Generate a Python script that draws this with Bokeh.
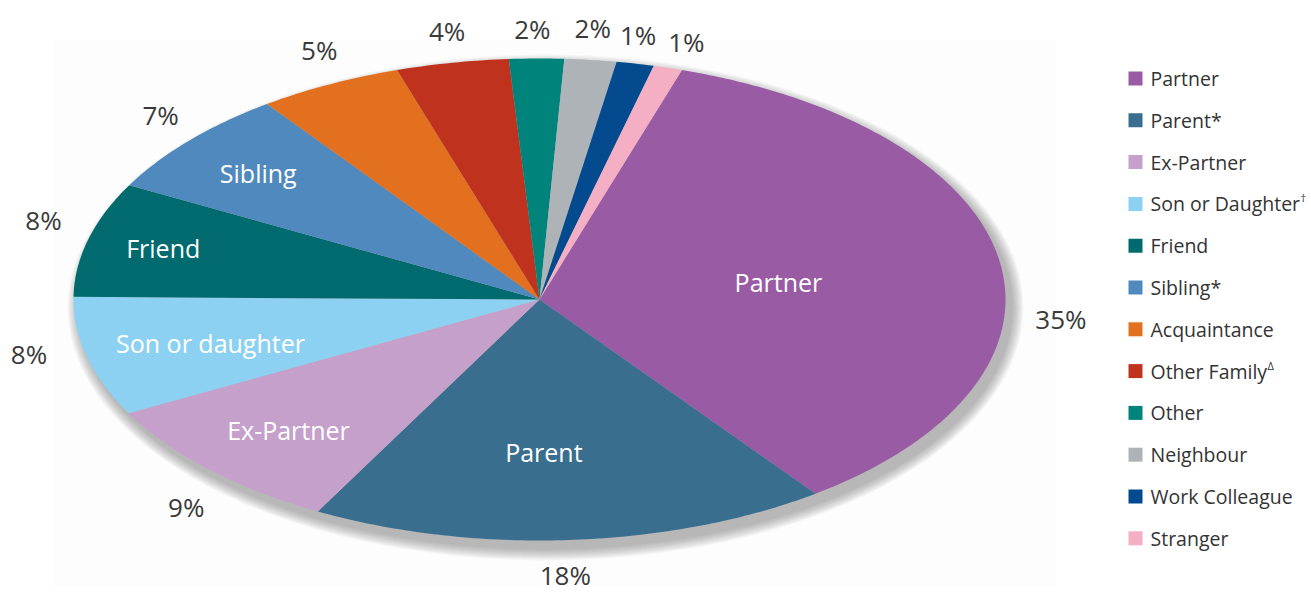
import numpy as np
from bokeh.plotting import figure
from bokeh.embed import file_html
from bokeh.resources import INLINE
from bokeh.models import ColumnDataSource
from bokeh.core.properties import value

# ---------------- data ----------------
categories = ["Partner", "Parent", "Ex-Partner", "Son or Daughter", "Friend", "Sibling",
              "Acquaintance", "Other Family", "Other", "Neighbour", "Work Colleague", "Stranger"]
shares = [35.0, 18.0, 9.3, 8.0, 7.7, 7.2, 5.0, 3.9, 1.9, 1.8, 1.3, 1.0]
pct_labels = ["35%", "18%", "9%", "8%", "8%", "7%", "5%", "4%", "2%", "2%", "1%", "1%"]
inner_labels = ["Partner", "Parent", "Ex-Partner", "Son or daughter", "Friend", "Sibling",
                "", "", "", "", "", ""]
legend_names = ["Partner", "Parent*", "Ex-Partner", "Son or Daughter", "Friend", "Sibling*",
                "Acquaintance", "Other Family", "Other", "Neighbour", "Work Colleague", "Stranger"]
legend_sups = ["", "", "", "\u2020", "", "", "", "\u0394", "", "", "", ""]
colors = ["#9A5BA5", "#3A6E8F", "#C5A0CB", "#8DD1F2", "#006A6E", "#4F89BE",
          "#E2701F", "#BF321E", "#00837A", "#AEB3B8", "#034A8E", "#F4AFC4"]

# ---------------- layout ----------------
W, H = 1311, 596
CX, CY = 539, H - 299      # ellipse centre (plot px, y up)
RA, RB = 466, 241          # semi axes
START = np.deg2rad(72.2)   # start angle, slices go clockwise
D = 38                     # outside-label distance
# small manual nudges for labels (px, y up)
nudge = [(24, -64), (-9, 3), (4, -11), (-21, 12), (-8, 10), (0, 0),
         (7, 0), (2, -6), (-4, -8), (-2, -6), (-5, -9), (8, -11)]
inner_nudge = [(0, -3), (-18, 14), (8, 3), (32, 2), (-15, 3), (1, -2)]

p = figure(width=W, height=H, x_range=(0, W), y_range=(0, H),
           output_backend="svg", toolbar_location=None, min_border=0,
           background_fill_color="white", border_fill_color="white")
p.axis.visible = False
p.grid.visible = False
p.outline_line_color = None

# faint backdrop
p.quad(left=[53], right=[1055], bottom=[H - 586], top=[H - 40],
       fill_color="#fdfdfd", line_color=None)

# soft shadow (down-right)
for i in range(12):
    grow = 1 + i * 1.0
    p.ellipse(x=[CX + 6], y=[CY - 8], width=[2 * RA + 2 * grow], height=[2 * RB + 2 * grow],
              fill_color="#55555f", fill_alpha=0.045, line_color=None)

total = float(sum(shares))
xs, ys, mids = [], [], []
a0 = START
for v in shares:
    span = 2 * np.pi * v / total
    a1 = a0 - span
    t = np.linspace(a0, a1, max(8, int(abs(span) * 80)))
    xs.append([CX] + list(CX + RA * np.cos(t)) + [CX])
    ys.append([CY] + list(CY + RB * np.sin(t)) + [CY])
    mids.append((a0 + a1) / 2)
    a0 = a1

src = ColumnDataSource(dict(xs=xs, ys=ys, color=colors, name=categories, share=shares))
p.patches("xs", "ys", source=src, fill_color="color", line_color=None)

# outside percentage labels
px, py = [], []
for m, (dx, dy) in zip(mids, nudge):
    px.append(CX + (RA + D) * np.cos(m) + dx)
    py.append(CY + (RB + D) * np.sin(m) + dy)
p.text(x=px, y=py, text=pct_labels, text_align="center", text_baseline="middle",
       text_font=value("Open Sans"), text_font_size="26px", text_color="#3a3a3a")

# inner labels
ix, iy, it = [], [], []
for m, v, lab, (dx, dy) in zip(mids, shares, inner_labels, inner_nudge + [(0, 0)] * 6):
    if not lab:
        continue
    k = 0.88 - 0.0103 * v
    ix.append(CX + RA * k * np.cos(m) + dx)
    iy.append(CY + RB * k * np.sin(m) + dy)
    it.append(lab)
p.text(x=ix, y=iy, text=it, text_align="center", text_baseline="middle",
       text_font=value("Open Sans"), text_font_size="25px", text_color="white")

# legend (manual, to allow superscripts)
LX, LY0, LSTEP = 1135, H - 78, 41.8
ly = [LY0 - i * LSTEP for i in range(len(categories))]
p.scatter(x=[LX] * len(categories), y=ly, marker="square", size=14,
          fill_color=colors, line_color=None)
p.text(x=[LX + 15] * len(categories), y=ly, text=legend_names, text_align="left",
       text_baseline="middle", text_font=value("Open Sans"), text_font_size="19.5px",
       text_color="#333333")
name_w = {"Son or Daughter": 149, "Other Family": 116}
sx, sy, st = [], [], []
for name, sup, yy in zip(legend_names, legend_sups, ly):
    if sup:
        sx.append(LX + 15 + name_w[name] + 1)
        sy.append(yy + 6)
        st.append(sup)
p.text(x=sx, y=sy, text=st, text_align="left", text_baseline="middle",
       text_font=value("Open Sans"), text_font_size="11px", text_color="#333333")

open("out.html", "w").write(file_html(p, INLINE))
